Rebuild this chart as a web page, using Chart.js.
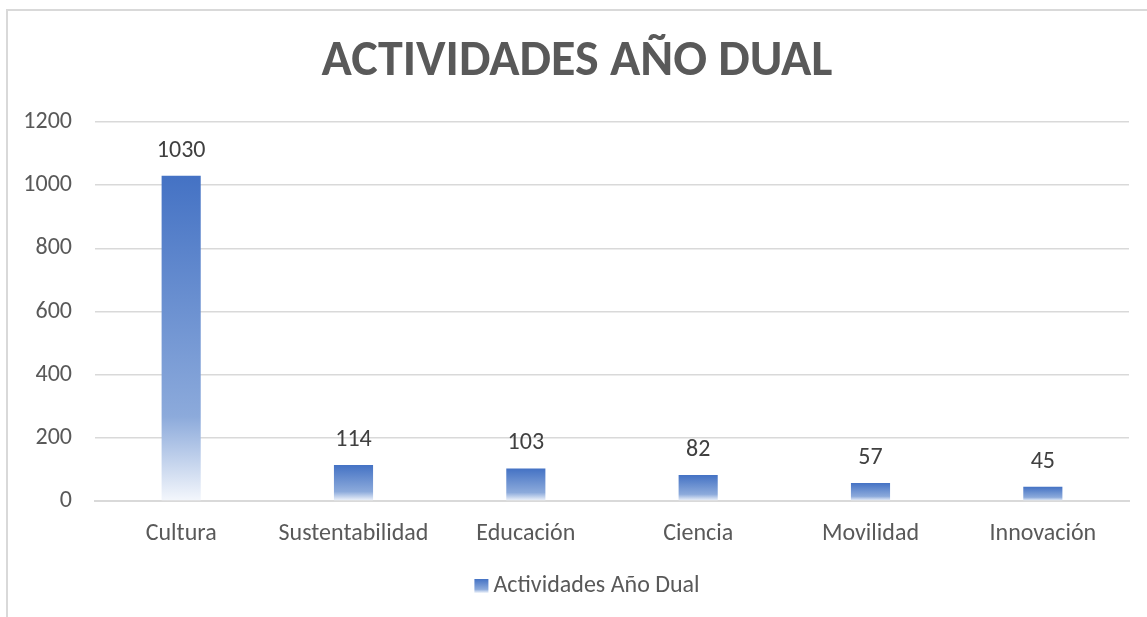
<!DOCTYPE html>
<html lang="es">
<head>
    <meta charset="UTF-8">
    <title>Actividades Año Dual</title>
    <style>
        body { margin: 0; background: #fff; }
        .wrap { position: relative; width: 1147px; height: 617px; }
        canvas { display: block; }
        .frame {
            position: absolute; left: 6px; top: 9px; right: 0; bottom: 0;
            border-left: 2px solid #d9d9d9; border-top: 2px solid #d9d9d9;
            pointer-events: none;
        }
    </style>
</head>
<body>
<div class="wrap">
    <canvas id="myChart" width="1147" height="617"></canvas>
    <div class="frame"></div>
</div>
<script src="https://cdn.jsdelivr.net/npm/chart.js@4/dist/chart.umd.min.js"></script>
<script>
    // data
    var categories = ['Cultura', 'Sustentabilidad', 'Educación', 'Ciencia', 'Movilidad', 'Innovación'];
    var values = [1030, 114, 103, 82, 57, 45];
    var seriesName = 'Actividades Año Dual';
    var yMax = 1200;
    var yStep = 200;

    var FONT = 'Carlito, Lato, sans-serif';
    var BLUE = '#4472C4';
    var LEGEND_BOX = 27;   // reserved width in the legend, square is drawn by hand

    function fadeGradient(c, top, bottom) {
        var g = c.createLinearGradient(0, top, 0, bottom);
        g.addColorStop(0, BLUE);
        g.addColorStop(0.74, '#8CAADB');
        g.addColorStop(1, '#F4F7FC');
        return g;
    }

    function barFill(ctx) {
        var chart = ctx.chart;
        var y = chart.scales.y;
        if (!chart.chartArea || !y || ctx.dataIndex === undefined) return BLUE;
        var top = y.getPixelForValue(values[ctx.dataIndex]);
        var base = y.getPixelForValue(0);
        return fadeGradient(chart.ctx, top, base);
    }

    // value labels above bars + gradient legend square
    var extras = {
        id: 'extras',
        afterDatasetsDraw: function (chart) {
            var c = chart.ctx;
            var meta = chart.getDatasetMeta(0);
            c.save();
            c.font = '24px ' + FONT;
            c.fillStyle = '#404040';
            c.textAlign = 'center';
            c.textBaseline = 'middle';
            meta.data.forEach(function (bar, i) {
                c.fillText(String(values[i]), bar.x, bar.y - 25);
            });
            c.restore();
        },
        afterDraw: function (chart) {
            var hb = chart.legend.legendHitBoxes[0];
            if (!hb) return;
            var c = chart.ctx;
            var top = hb.top + (hb.height - 14) / 2;
            c.save();
            c.fillStyle = fadeGradient(c, top, top + 14);
            c.fillRect(hb.left + LEGEND_BOX - 7, top, 14, 14);
            c.restore();
        }
    };

    var chart = new Chart(document.getElementById('myChart').getContext('2d'), {
        type: 'bar',
        data: {
            labels: categories,
            datasets: [{
                label: seriesName,
                data: values,
                backgroundColor: barFill,
                barPercentage: 0.227,
                categoryPercentage: 1
            }]
        },
        options: {
            responsive: false,
            animation: false,
            layout: { padding: { left: 25, right: 18, top: 0, bottom: 9 } },
            plugins: {
                title: {
                    display: true,
                    text: 'ACTIVIDADES AÑO DUAL',
                    color: '#595959',
                    font: { family: FONT, size: 50, weight: 'bold' },
                    padding: { top: 32, bottom: 30 }
                },
                legend: {
                    position: 'bottom',
                    labels: {
                        color: '#595959',
                        font: { family: FONT, size: 24 },
                        boxWidth: LEGEND_BOX,
                        boxHeight: 14,
                        padding: 13,
                        generateLabels: function (chart) {
                            return [{
                                text: seriesName,
                                fillStyle: 'rgba(0,0,0,0)',
                                strokeStyle: 'rgba(0,0,0,0)',
                                lineWidth: 0,
                                fontColor: '#595959',
                                datasetIndex: 0
                            }];
                        }
                    }
                },
                tooltip: { enabled: false }
            },
            scales: {
                x: {
                    grid: { display: false, drawTicks: false },
                    border: { display: true, color: '#d9d9d9', width: 2 },
                    ticks: { color: '#595959', font: { family: FONT, size: 24 }, padding: 19 },
                    afterFit: function (s) { s.height = 60; }
                },
                y: {
                    min: 0,
                    max: yMax,
                    ticks: {
                        stepSize: yStep,
                        color: '#595959',
                        font: { family: FONT, size: 24 },
                        padding: 23,
                        callback: function (v) { return String(v); }
                    },
                    grid: { color: '#d9d9d9', lineWidth: 1.5, drawTicks: false },
                    border: { display: false },
                    afterFit: function (s) { s.width = 70; }
                }
            }
        },
        plugins: [extras]
    });
    chart.update('none');
</script>
</body>
</html>
